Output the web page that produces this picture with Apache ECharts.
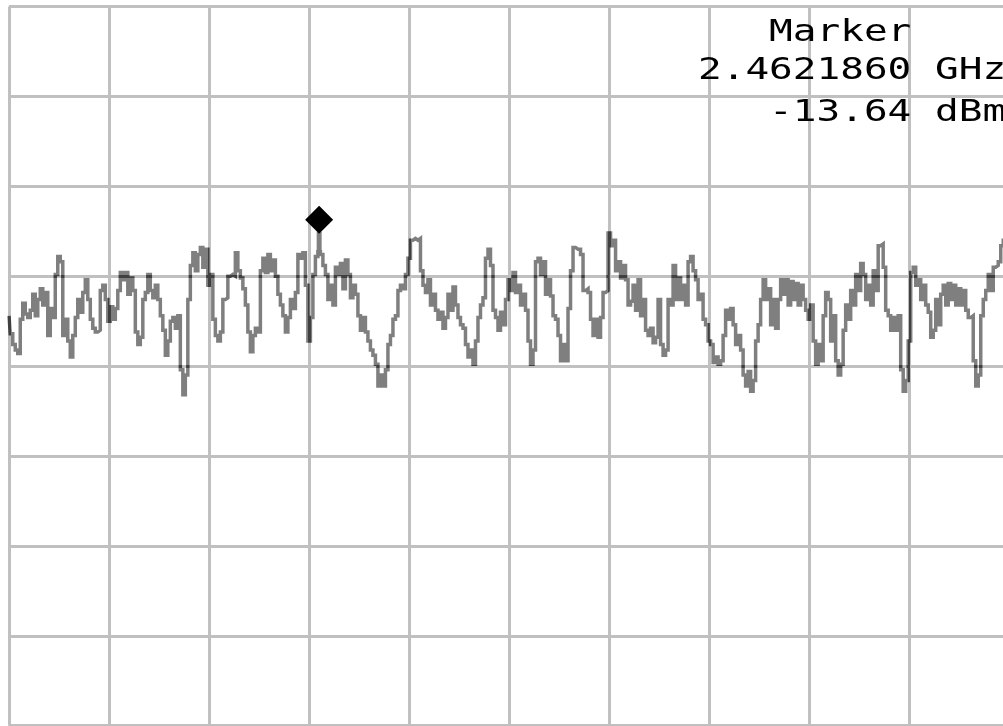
<!DOCTYPE html>
<html>
<head>
<meta charset="utf-8">
<script src="https://cdn.jsdelivr.net/npm/echarts@6/dist/echarts.min.js"></script>
<style>
  html, body { margin: 0; padding: 0; background: #ffffff; overflow: hidden; }
  #chart { width: 1003px; height: 726px; }
</style>
</head>
<body>
<div id="chart"></div>
<script>
// Trace level (dBm) at each of 400 evenly spaced trace points across the 10 divisions
const levels = [
  -17.2, -18.2, -18.8, -19.1, -19.3, -17.4, -16.5, -17.1, -17.3, -16.9,
  -16.0, -17.2, -16.3, -15.7, -16.6, -15.9, -18.3, -16.8, -17.3, -14.9,
  -13.9, -14.2, -18.3, -17.4, -18.6, -19.5, -18.3, -17.3, -16.3, -17.0,
  -15.9, -15.2, -16.3, -17.4, -17.9, -18.1, -18.0, -15.8, -15.5, -16.3,
  -17.5, -16.7, -17.4, -16.8, -15.8, -14.8, -15.2, -14.8, -16.0, -15.1,
  -15.8, -18.1, -18.8, -18.4, -16.3, -15.9, -14.9, -15.8, -16.2, -15.5,
  -16.3, -17.2, -18.0, -19.4, -18.6, -17.5, -17.3, -17.9, -17.2, -20.2,
  -21.6, -20.5, -16.3, -14.4, -13.7, -14.7, -13.8, -13.4, -14.5, -13.5,
  -15.5, -14.9, -17.4, -18.3, -18.6, -18.1, -16.3, -16.2, -15.0, -14.9,
  -15.0, -13.7, -14.7, -15.1, -15.7, -16.6, -18.1, -19.2, -18.3, -17.9,
  -18.1, -14.7, -14.0, -14.8, -13.8, -14.7, -14.1, -15.0, -16.0, -16.6,
  -17.2, -18.1, -17.3, -16.3, -16.8, -15.9, -13.8, -14.0, -13.7, -15.5,
  -18.6, -17.3, -14.9, -13.9, -13.64, -13.8, -14.4, -14.9, -16.3, -15.5,
  -16.6, -14.5, -14.9, -14.3, -15.7, -14.1, -14.9, -16.2, -15.5, -16.0,
  -17.2, -18.0, -17.3, -18.1, -18.6, -19.1, -19.4, -19.9, -21.1, -20.5,
  -21.1, -20.2, -18.8, -18.3, -17.4, -17.2, -15.8, -15.5, -15.7, -14.9,
  -14.0, -13.0, -12.9, -13.0, -12.9, -14.7, -15.5, -15.9, -15.2, -16.6,
  -16.0, -16.9, -17.4, -17.0, -17.9, -17.3, -16.0, -16.9, -15.6, -16.6,
  -17.3, -17.7, -17.9, -18.8, -19.5, -19.1, -19.9, -18.6, -17.3, -16.6,
  -16.2, -14.0, -13.5, -14.4, -16.9, -17.3, -18.0, -17.0, -17.7, -16.3,
  -15.2, -15.8, -14.8, -15.9, -15.5, -16.6, -16.0, -16.9, -18.6, -19.9,
  -19.1, -14.2, -14.0, -14.9, -14.2, -16.0, -15.2, -16.1, -17.2, -17.4,
  -18.3, -19.7, -18.8, -19.7, -16.8, -14.7, -13.4, -13.5, -13.5, -13.8,
  -15.8, -15.7, -15.9, -17.4, -18.3, -17.4, -18.4, -17.3, -15.9, -15.8,
  -12.6, -13.3, -13.0, -14.7, -14.2, -15.1, -14.4, -15.2, -16.6, -16.4,
  -15.5, -16.9, -15.2, -17.2, -16.3, -18.0, -18.3, -17.9, -18.7, -18.4,
  -16.3, -18.8, -19.4, -19.1, -16.3, -16.6, -14.4, -16.3, -15.1, -16.3,
  -15.5, -16.6, -14.2, -13.9, -14.7, -15.2, -16.3, -16.0, -17.4, -17.7,
  -18.6, -18.8, -19.8, -19.5, -19.9, -19.7, -18.3, -16.9, -17.4, -16.8,
  -17.7, -18.8, -18.3, -19.1, -20.5, -21.1, -20.3, -21.4, -20.8, -18.6,
  -17.7, -16.3, -15.2, -16.3, -15.7, -17.7, -16.3, -17.9, -16.3, -15.2,
  -16.0, -15.2, -16.6, -15.3, -16.3, -15.4, -16.6, -15.5, -16.3, -16.9,
  -17.4, -16.6, -18.6, -19.9, -18.8, -19.7, -17.2, -15.9, -16.3, -18.6,
  -17.2, -19.7, -20.5, -19.9, -18.0, -16.6, -17.4, -15.8, -16.6, -14.9,
  -15.8, -14.3, -14.9, -16.3, -15.5, -16.6, -14.7, -15.8, -13.3, -13.2,
  -14.5, -16.9, -17.2, -18.0, -17.3, -18.0, -17.2, -20.2, -21.4, -20.8,
  -18.6, -14.8, -14.5, -15.5, -15.2, -16.3, -15.5, -16.6, -17.0, -18.4,
  -18.0, -16.3, -17.7, -16.0, -15.5, -16.6, -15.4, -16.3, -15.5, -16.6,
  -15.7, -16.6, -15.8, -16.9, -17.3, -17.2, -19.7, -21.1, -20.5, -17.2,
  -16.3, -15.8, -14.9, -15.8, -14.5, -14.4, -14.2, -13.3, -13.0, -12.9
];
const markerIndex = 124;
const markerTitle = 'Marker';
const markerFreqText = '2.4621860 GHz';
const markerLevelText = '-13.64 dBm';
const refLevel = 0;      // dBm, top graticule line
const dbPerDiv = 5;
const yDivisions = 8;
const xDivisions = 10;
const pointsPerDiv = 40;

const chart = echarts.init(document.getElementById('chart'), null, { renderer: 'canvas' });

const gridColor = '#c0c0c0';
const traceColor = '#808080';
const cell = 23.7;             // monospace cell width of the readout
const fontSize = 30;
const sx = cell / (fontSize * 0.6021);
const textX0 = 698;

function readout(text, col, yMid) {
  return {
    type: 'text',
    x: textX0 + col * cell,
    y: yMid,
    scaleX: sx,
    scaleY: 1,
    z: 10,
    style: {
      text: text,
      x: 0, y: 0,
      fill: '#000000',
      fontFamily: 'DejaVu Sans Mono',
      fontSize: fontSize,
      align: 'left',
      verticalAlign: 'middle'
    }
  };
}

const option = {
  backgroundColor: '#ffffff',
  animation: false,
  grid: { left: 9, top: 6.5, right: -6.5, height: 719.2, containLabel: false, outerBoundsMode: 'none' },
  xAxis: {
    type: 'value',
    min: 0,
    max: xDivisions * pointsPerDiv,
    interval: pointsPerDiv,
    axisLine: { show: false },
    axisTick: { show: false },
    axisLabel: { show: false },
    splitLine: { show: true, lineStyle: { color: gridColor, width: 3 } }
  },
  yAxis: {
    type: 'value',
    min: refLevel - yDivisions * dbPerDiv,
    max: refLevel,
    interval: dbPerDiv,
    axisLine: { show: false },
    axisTick: { show: false },
    axisLabel: { show: false },
    splitLine: { show: true, lineStyle: { color: gridColor, width: 3 } }
  },
  series: [
    {
      type: 'line',
      data: levels.map((v, i) => [i, v]),
      step: 'middle',
      showSymbol: false,
      symbol: 'none',
      clip: false,
      blendMode: 'difference',
      lineStyle: { color: traceColor, width: 3.5, join: 'miter', cap: 'butt' },
      silent: true,
      z: 3
    },
    {
      type: 'line',
      data: [[markerIndex, levels[markerIndex]]],
      showSymbol: false,
      symbol: 'none',
      lineStyle: { opacity: 0 },
      z: 5,
      markPoint: {
        silent: true,
        label: { show: false },
        data: [
          { coord: [markerIndex, levels[markerIndex]], symbol: 'rect', symbolSize: [5, 20], symbolOffset: [0, -10], itemStyle: { color: traceColor } },
          { coord: [markerIndex, levels[markerIndex]], symbol: 'diamond', symbolSize: [28, 28], symbolOffset: [0, -32], itemStyle: { color: '#000000' } }
        ]
      }
    }
  ],
  graphic: [
    readout(markerTitle, 3, 33),
    readout(markerFreqText, 0, 71),
    readout(markerLevelText, 3, 113)
  ]
};
chart.setOption(option);
</script>
</body>
</html>
